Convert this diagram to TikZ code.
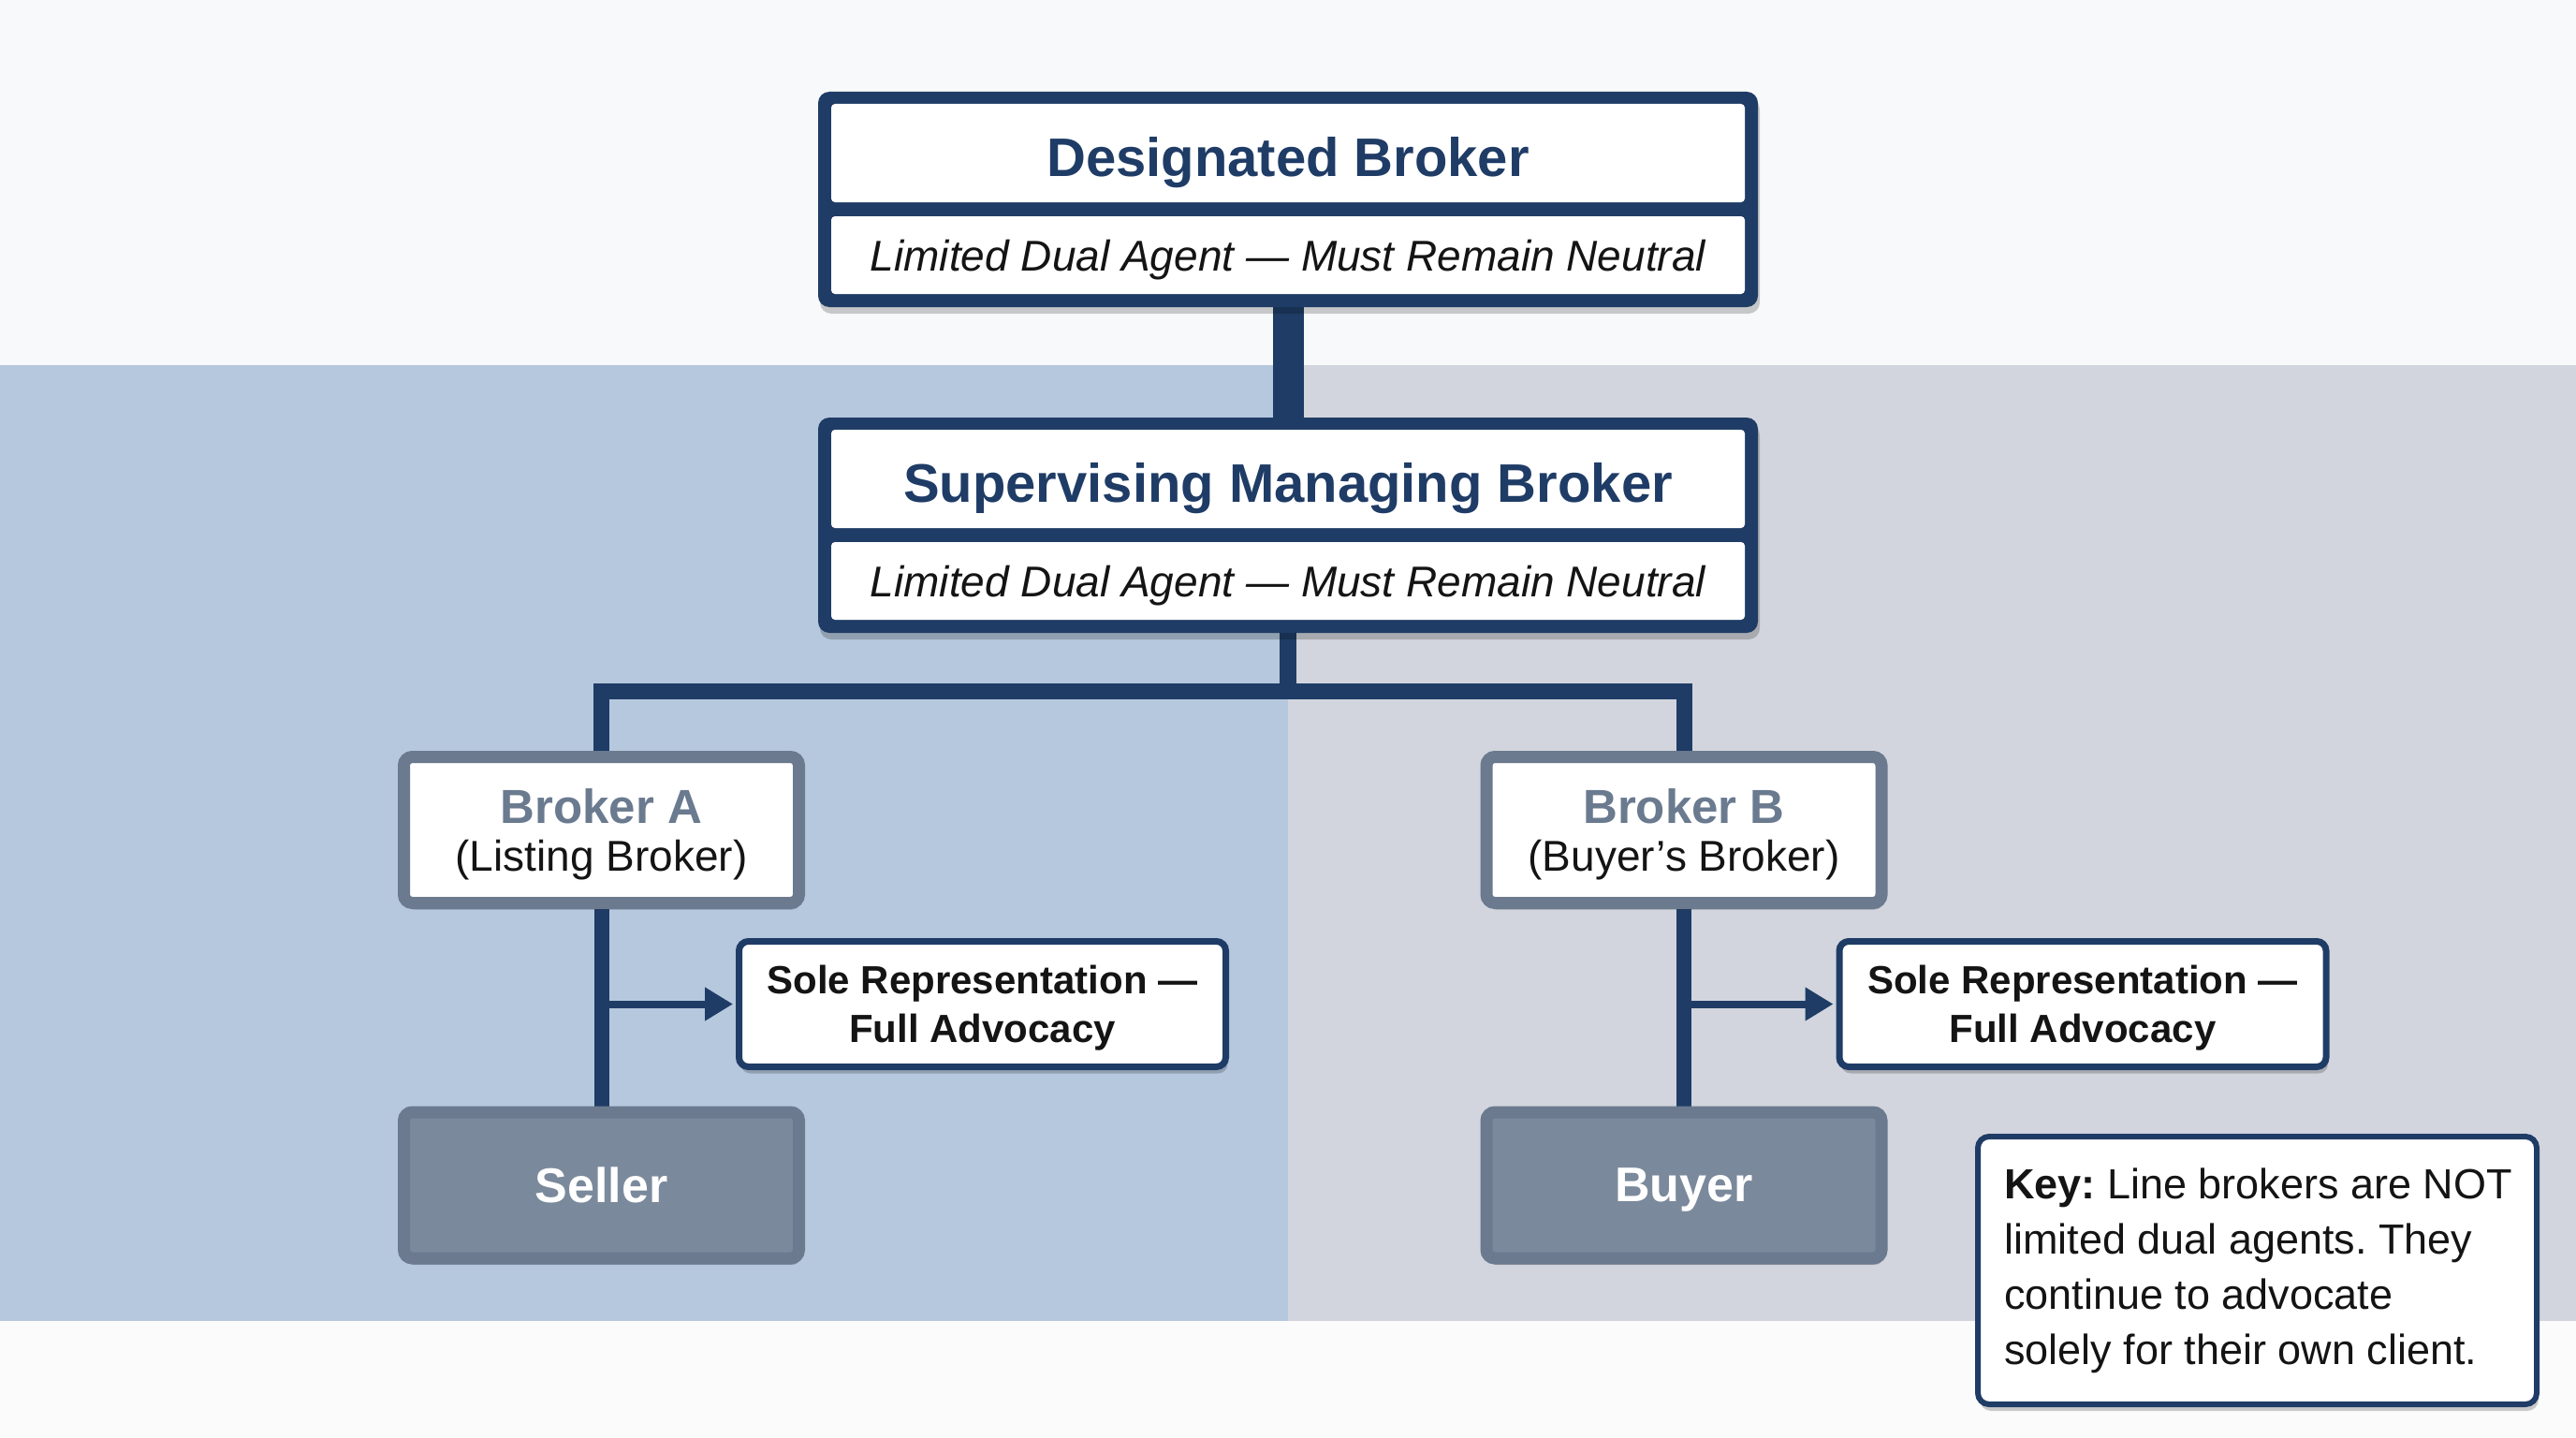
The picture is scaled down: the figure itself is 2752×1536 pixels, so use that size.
\documentclass[tikz,border=0pt]{standalone}
\usepackage{fontspec}
\setmainfont{Liberation Sans}
\usetikzlibrary{arrows.meta,shadows}
\definecolor{navy}{HTML}{1F3C66}
\definecolor{bandL}{HTML}{B6C8DD}
\definecolor{bandR}{HTML}{D2D5DD}
\definecolor{topbg}{HTML}{F8F9FA}
\definecolor{botbg}{HTML}{FBFBFC}
\definecolor{grayb}{HTML}{6B7A8E}
\definecolor{clientfill}{HTML}{7B899C}
\definecolor{brokertext}{HTML}{6A7A8F}
\definecolor{ink}{HTML}{141414}
\pgfdeclarelayer{bg}
\pgfdeclarelayer{conn}
\pgfsetlayers{bg,conn,main}
\frenchspacing
\begin{document}
\begin{tikzpicture}[x=1pt,y=-1pt,
  shad/.style={drop shadow={shadow xshift=2pt,shadow yshift=-7pt,opacity=0.2,fill=black}},
  outerbox/.style={fill=navy,rounded corners=12pt,inner sep=0pt,minimum width=1004pt,minimum height=230pt,shad},
  panel/.style={fill=white,rounded corners=4pt,inner sep=0pt,minimum width=976pt},
  title/.style={panel,minimum height=105pt,text height=49pt,text depth=0pt,text=navy,font=\bfseries\fontsize{58}{58}\selectfont},
  subtitle/.style={panel,minimum height=83pt,text height=33pt,text depth=0pt,text=ink,font=\itshape\fontsize{46}{46}\selectfont},
  broker/.style={draw=grayb,line width=13pt,fill=white,rounded corners=9pt,minimum width=422pt,minimum height=156pt,inner sep=0pt,text depth=0pt,align=center,text=ink,font=\fontsize{46}{51}\selectfont,shad},
  client/.style={broker,fill=clientfill,draw=grayb,text=white,font=\bfseries\fontsize{52}{52}\selectfont},
  sole/.style={draw=navy,line width=7pt,fill=white,rounded corners=10pt,minimum width=520pt,minimum height=134pt,inner sep=0pt,text depth=0pt,align=center,text=ink,font=\bfseries\fontsize{42}{52}\selectfont,shad},
  keybox/.style={draw=navy,line width=6pt,fill=white,rounded corners=12pt,minimum width=597pt,minimum height=286pt,inner sep=0pt,shad},
  keytext/.style={inner sep=0pt,align=left,text=ink,font=\fontsize{45}{59}\selectfont},
  conn/.style={navy,line join=miter},
  arr/.style={conn,line width=8pt,-{Triangle[length=30pt,width=34pt]}}
]
\useasboundingbox (0,0) rectangle (2752,1536);
\begin{pgfonlayer}{bg}
  \fill[topbg] (0,0) rectangle (2752,390);
  \fill[bandL] (0,390) rectangle (1376,1411);
  \fill[bandR] (1376,390) rectangle (2752,1411);
  \fill[botbg] (0,1411) rectangle (2752,1536);
\end{pgfonlayer}

% Designated Broker
\node[outerbox] (db) at (1376,213) {};
\node[title] (dbt) at (1376,163.5) {Designated Broker};
\node[subtitle] (dbs) at (1376,272.5) {Limited Dual Agent — Must Remain Neutral};

% Supervising Managing Broker
\node[outerbox] (smb) at (1376,561) {};
\node[title] (smbt) at (1376,511.5) {Supervising Managing Broker};
\node[subtitle] (smbs) at (1376,620.5) {Limited Dual Agent — Must Remain Neutral};

% Brokers
\node[broker] (ba) at (642.5,886.5) {{\color{brokertext}\bfseries\fontsize{51}{51}\selectfont Broker A}\\(Listing Broker)};
\node[broker] (bb) at (1799,886.5) {{\color{brokertext}\bfseries\fontsize{51}{51}\selectfont Broker B}\\(Buyer’s Broker)};

% Clients
\node[client] (sel) at (642.5,1266) {Seller};
\node[client] (buy) at (1799,1266) {Buyer};

% Sole representation boxes
\node[sole] (sa) at (1049.5,1072.5) {Sole Representation —\\Full Advocacy};
\node[sole] (sb) at (2225,1072.5) {Sole Representation —\\Full Advocacy};

% Key
\node[keybox] (key) at (2411.5,1357) {};
\node[keytext,anchor=west] (keyt) at ([xshift=31pt]key.west) {\textbf{Key:} Line brokers are NOT\\limited dual agents. They\\continue to advocate\\solely for their own client.};

\coordinate (bar) at (1376,738);
\begin{pgfonlayer}{conn}
  \draw[conn,line width=33pt] (db.south) -- (smb.north);
  \draw[conn,line width=18pt] (smb.south) -- (bar);
  \draw[conn,line width=17pt] (ba.north) |- (bar) -| (bb.north);
  \draw[conn,line width=16pt] (ba.south) -- (sel.north);
  \draw[conn,line width=16pt] (bb.south) -- (buy.north);
  \draw[arr] (ba.south |- sa.west) -- ([xshift=-3pt]sa.west);
  \draw[arr] (bb.south |- sb.west) -- ([xshift=-3pt]sb.west);
\end{pgfonlayer}
\end{tikzpicture}
\end{document}
